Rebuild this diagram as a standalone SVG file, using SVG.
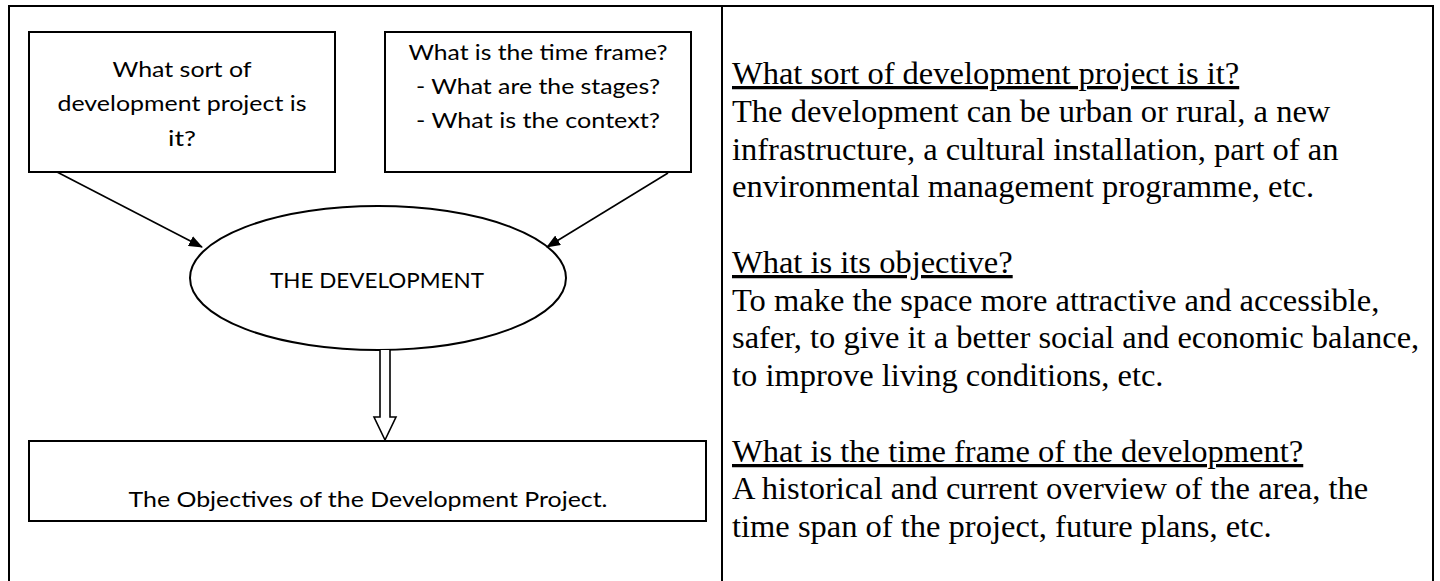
<svg xmlns="http://www.w3.org/2000/svg" width="1440" height="581" viewBox="0 0 1440 581">
<style>
.frame{fill:none;stroke:#000;stroke-width:2}
.box{fill:#fff;stroke:#000;stroke-width:2}
.lt{font-family:Lato,"Open Sans","Liberation Sans",sans-serif;font-size:20.5px;fill:#000;text-anchor:middle}
.big{font-size:22px}
.rt{font-family:"Liberation Serif","Times New Roman",serif;font-size:32.5px;fill:#000}
.u{text-decoration:underline}
.conn{fill:none;stroke:#000;stroke-width:1.6}
</style>
<defs>
<marker id="ah" markerWidth="14" markerHeight="11" refX="13" refY="5.5" orient="auto" markerUnits="userSpaceOnUse" viewBox="0 0 14 11">
<path d="M0,0 L14,5.5 L0,11 z" fill="#000"/>
</marker>
</defs>
<rect width="1440" height="581" fill="#fff"/>
<g id="table">
<path class="frame" d="M9,582 V6 H1433 V582 M722,6 V582"/>
</g>
<g id="node-sort">
<rect class="box" x="29" y="32" width="306" height="140"/>
<text class="lt" x="182" y="77" textLength="139" lengthAdjust="spacingAndGlyphs">What sort of</text>
<text class="lt" x="182" y="111" textLength="249" lengthAdjust="spacingAndGlyphs">development project is</text>
<text class="lt" x="182" y="146" textLength="28" lengthAdjust="spacingAndGlyphs">it?</text>
</g>
<g id="node-time">
<rect class="box" x="385" y="32" width="306" height="140"/>
<text class="lt" x="538" y="60" textLength="259" lengthAdjust="spacingAndGlyphs">What is the time frame?</text>
<text class="lt" x="538" y="94" textLength="244" lengthAdjust="spacingAndGlyphs">- What are the stages?</text>
<text class="lt" x="538" y="128" textLength="244" lengthAdjust="spacingAndGlyphs">- What is the context?</text>
</g>
<g id="node-development">
<ellipse class="box" cx="378" cy="278" rx="188" ry="72"/>
<text class="lt big" x="377" y="288" textLength="214" lengthAdjust="spacingAndGlyphs">THE DEVELOPMENT</text>
</g>
<g id="node-objectives">
<rect class="box" x="29" y="441" width="677" height="80"/>
<text class="lt" x="368" y="507" textLength="479" lengthAdjust="spacingAndGlyphs">The Objectives of the Development Project.</text>
</g>
<g id="connectors">
<line class="conn" x1="57" y1="172" x2="202" y2="247" marker-end="url(#ah)"/>
<line class="conn" x1="668" y1="173" x2="547" y2="247" marker-end="url(#ah)"/>
<path d="M380,350 V417 H374 L385,440 L396,417 H390 V350" fill="#fff" stroke="#000" stroke-width="1.6"/>
</g>
<g id="notes">
<text class="rt u" x="732" y="84">What sort of development project is it?</text>
<text class="rt" x="732" y="122">The development can be urban or rural, a new</text>
<text class="rt" x="732" y="160">infrastructure, a cultural installation, part of an</text>
<text class="rt" x="732" y="197">environmental management programme, etc.</text>
<text class="rt u" x="732" y="273">What is its objective?</text>
<text class="rt" x="732" y="311">To make the space more attractive and accessible,</text>
<text class="rt" x="732" y="348">safer, to give it a better social and economic balance,</text>
<text class="rt" x="732" y="386">to improve living conditions, etc.</text>
<text class="rt u" x="732" y="462">What is the time frame of the development?</text>
<text class="rt" x="732" y="499">A historical and current overview of the area, the</text>
<text class="rt" x="732" y="537">time span of the project, future plans, etc.</text>
</g>
</svg>
